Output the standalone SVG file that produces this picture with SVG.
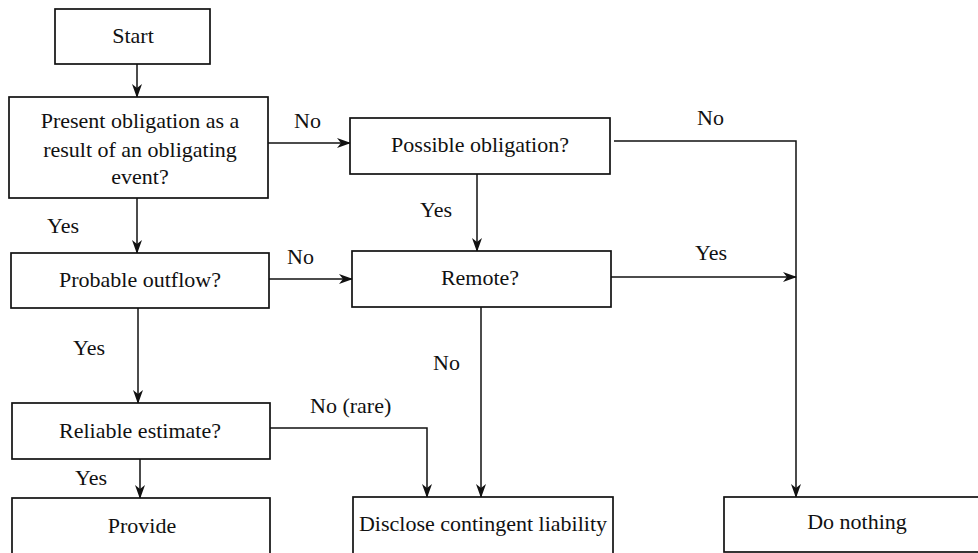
<svg xmlns="http://www.w3.org/2000/svg" width="978" height="553" viewBox="0 0 978 553">
<style>
.box{fill:#fff;stroke:#111;stroke-width:1.7}
.t{font-family:"Liberation Serif","Times New Roman",serif;font-size:22px;fill:#111;text-anchor:middle}
.l{font-family:"Liberation Serif","Times New Roman",serif;font-size:22px;fill:#111}
.c{fill:none;stroke:#111;stroke-width:1.5}
</style>
<defs>
<marker id="ah" markerWidth="14" markerHeight="10" refX="13" refY="5" orient="auto" markerUnits="userSpaceOnUse">
<path d="M0,0 L14,5 L0,10 L4,5 Z" fill="#111"/>
</marker>
</defs>
<rect width="978" height="553" fill="#fff"/>
<g id="connectors">
<line class="c" x1="137" y1="64" x2="137" y2="97" marker-end="url(#ah)"/>
<line class="c" x1="268" y1="143" x2="350" y2="143" marker-end="url(#ah)"/>
<polyline class="c" points="614,141 796,141 796,497" marker-end="url(#ah)"/>
<line class="c" x1="477" y1="174" x2="477" y2="251" marker-end="url(#ah)"/>
<line class="c" x1="137" y1="198" x2="137" y2="253" marker-end="url(#ah)"/>
<line class="c" x1="269" y1="279" x2="352" y2="279" marker-end="url(#ah)"/>
<line class="c" x1="611" y1="277" x2="796" y2="277" marker-end="url(#ah)"/>
<line class="c" x1="138" y1="308" x2="138" y2="403" marker-end="url(#ah)"/>
<line class="c" x1="481" y1="307" x2="481" y2="497" marker-end="url(#ah)"/>
<polyline class="c" points="270,428 427,428 427,497" marker-end="url(#ah)"/>
<line class="c" x1="140" y1="459" x2="140" y2="498" marker-end="url(#ah)"/>
<text class="l" x="294" y="128">No</text>
<text class="l" x="697" y="125">No</text>
<text class="l" x="420" y="217">Yes</text>
<text class="l" x="47" y="233">Yes</text>
<text class="l" x="287" y="264">No</text>
<text class="l" x="695" y="260">Yes</text>
<text class="l" x="73" y="355">Yes</text>
<text class="l" x="433" y="370">No</text>
<text class="l" x="310" y="413">No (rare)</text>
<text class="l" x="75" y="485">Yes</text>
</g>
<g id="start"><rect class="box" x="55" y="9" width="155" height="55"/><text class="t" x="133" y="43">Start</text></g>
<g id="present"><rect class="box" x="9" y="97" width="259" height="101"/>
<text class="t" x="140" y="128">Present obligation as a</text>
<text class="t" x="140" y="157">result of an obligating</text>
<text class="t" x="140" y="184">event?</text></g>
<g id="possible"><rect class="box" x="350" y="118" width="260" height="56"/><text class="t" x="480" y="152">Possible obligation?</text></g>
<g id="probable"><rect class="box" x="11" y="253" width="258" height="55"/><text class="t" x="140" y="287">Probable outflow?</text></g>
<g id="remote"><rect class="box" x="352" y="251" width="259" height="56"/><text class="t" x="480" y="285">Remote?</text></g>
<g id="reliable"><rect class="box" x="12" y="403" width="258" height="56"/><text class="t" x="140" y="438">Reliable estimate?</text></g>
<g id="provide"><rect class="box" x="12" y="498" width="258" height="70"/><text class="t" x="142" y="533">Provide</text></g>
<g id="disclose"><rect class="box" x="353" y="497" width="260" height="70"/><text class="t" x="483" y="531">Disclose contingent liability</text></g>
<g id="donothing"><rect class="box" x="724" y="497" width="270" height="55"/><text class="t" x="857" y="529">Do nothing</text></g>
</svg>
